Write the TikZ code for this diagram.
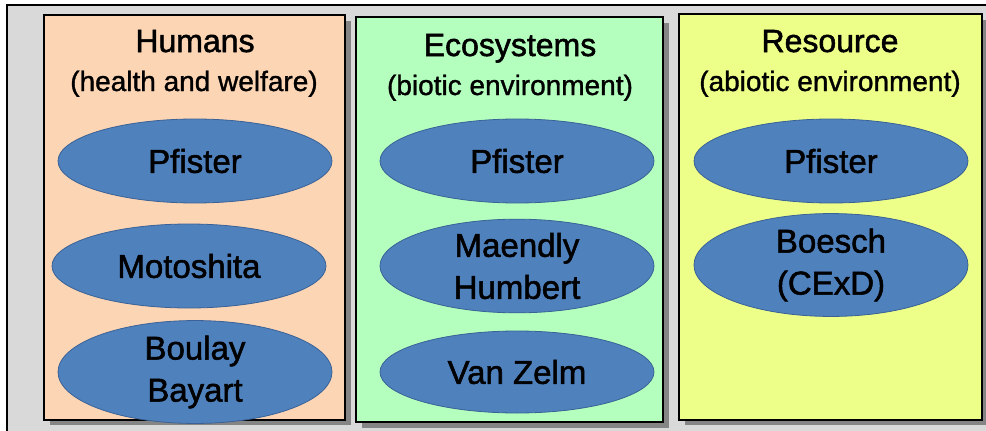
\documentclass[tikz,border=0pt]{standalone}
\usepackage{fontspec}
\setmainfont[FakeBold=1.2]{Liberation Sans}
\newfontfamily\heavyfont[FakeBold=1.6]{Liberation Sans}
\usetikzlibrary{shapes.geometric}
\definecolor{panelgray}{HTML}{D9D9D9}
\definecolor{shadowgray}{HTML}{858585}
\definecolor{peach}{HTML}{FCD5B4}
\definecolor{mint}{HTML}{B4FFBE}
\definecolor{lemon}{HTML}{EDFF88}
\definecolor{ovalblue}{HTML}{4F81BD}
\definecolor{ovaledge}{HTML}{3A6296}
\tikzset{
  column/.style={draw=black, line width=2pt},
  shadow/.style={fill=shadowgray, draw=none},
  oval/.style={ellipse, fill=ovalblue, draw=ovaledge, line width=0.8pt,
    minimum width=274pt, minimum height=84pt, inner sep=0pt,
    align=center, font=\heavyfont\fontsize{33}{42}\selectfont},
  heading/.style={font=\heavyfont\fontsize{32}{36}\selectfont, anchor=base},
  subheading/.style={font=\fontsize{28}{32}\selectfont, anchor=base},
}
\begin{document}
\begin{tikzpicture}[x=1pt,y=-1pt]
\useasboundingbox (0,0) rectangle (986,431);
% backdrop panel
\fill[panelgray] (7,5) rectangle (990,435);
\draw[line width=1.2pt] (7,436) -- (7,5) -- (990,5);

% drop shadows of the three columns
\fill[shadow] (50,21) rectangle (351,425);
\fill[shadow] (362,23) rectangle (669,428);
\fill[shadow] (685,20) rectangle (988,425);

% columns
\filldraw[column, fill=peach] (44,15) rectangle (345,420);
\filldraw[column, fill=mint]  (356,17) rectangle (663,422);
\filldraw[column, fill=lemon] (679,14) rectangle (982,420);

% headings
\node[heading] (hT) at (195,52) {Humans};
\node[subheading] (hS) at (194,91) {(health and welfare)};
\node[heading] (eT) at (510,56) {Ecosystems};
\node[subheading] (eS) at (510,95) {(biotic environment)};
\node[heading] (rT) at (830,52) {Resource};
\node[subheading] (rS) at (830,91) {(abiotic environment)};

% humans
\node[oval] (h1) at (195,161) {Pfister};
\node[oval] (h2) at (189,266) {Motoshita};
\node[oval] (h3) at (195,372) {Boulay\\Bayart};

% ecosystems
\node[oval] (e1) at (517,161) {Pfister};
\node[oval] (e2) at (517,266) {Maendly\\Humbert};
\node[oval, minimum height=82pt] (e3) at (517,372) {Van Zelm};

% resources
\node[oval] (r1) at (831,161) {Pfister};
\node[oval] (r2) at (831,265) {Boesch\\(CExD)};
\end{tikzpicture}
\end{document}
